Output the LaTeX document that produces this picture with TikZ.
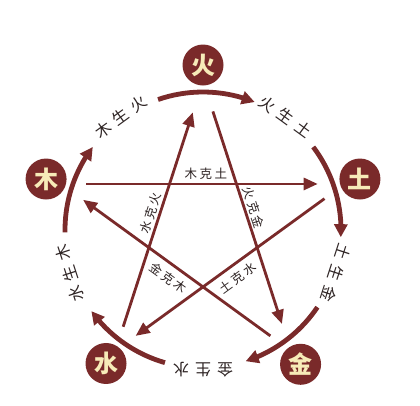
\documentclass[tikz,border=0pt]{standalone}
\usepackage{fontspec}
\newfontfamily\cjk{Noto Sans CJK SC}
\usetikzlibrary{calc,arrows.meta,bending}
\definecolor{maroon}{HTML}{7A2A2A}
\definecolor{cream}{HTML}{F7EBB8}
\definecolor{labtxt}{HTML}{2E2424}
\begin{document}
\begin{tikzpicture}[x=1pt,y=-1pt,
  elem/.style={circle,fill=maroon,minimum size=41pt,inner sep=0pt,text=cream,font=\cjk\bfseries\fontsize{24}{24}\selectfont},
  rimarc/.style={line width=4.8pt,draw=maroon,-{Triangle[length=13pt,width=13pt]}},
  rimlab/.style={text=labtxt,inner sep=1pt,font=\cjk\fontsize{16}{16}\selectfont},
  starline/.style={line width=2.8pt,draw=maroon,-{Triangle[length=14pt,width=12pt]}},
  klab/.style={text=labtxt,inner sep=2pt,font=\cjk\fontsize{12.5}{12.5}\selectfont}]
\useasboundingbox (0,0) rectangle (420,405);
\coordinate (C) at (203,230);
% element circles
\node[elem] (huo) at ($(C)+(90:165pt)$) {火};
\node[elem] (tu) at ($(C)+(18:165pt)$) {土};
\node[elem] (jin) at ($(C)+(-54:166pt)$) {金};
\node[elem] (shui) at ($(C)+(-126:165pt)$) {水};
\node[elem] (mu) at ($(C)+(162:165pt)$) {木};
% rim arcs (sheng cycle)
\draw[rimarc] ($(C)+(181:138pt)$) arc[start angle=181, end angle=143, radius=138pt];
\draw[rimarc] ($(C)+(109:138pt)$) arc[start angle=109, end angle=68, radius=138pt];
\draw[rimarc] ($(C)+(37:138pt)$) arc[start angle=37, end angle=-3, radius=138pt];
\draw[rimarc] ($(C)+(-34:138pt)$) arc[start angle=-34, end angle=-72, radius=138pt];
\draw[rimarc] ($(C)+(-106:138pt)$) arc[start angle=-106, end angle=-144, radius=138pt];
% rim labels
\node[rimlab,rotate=36] (l1) at ($(C)+(126:140pt)$) {木\hspace{6pt}生\hspace{6pt}火};
\node[rimlab,rotate=-36] (l2) at ($(C)+(54:140pt)$) {火\hspace{6pt}生\hspace{6pt}土};
\node[rimlab,rotate=-108] (l3) at ($(C)+(-18:140pt)$) {土\hspace{6pt}生\hspace{6pt}金};
\node[rimlab,rotate=-180] (l4) at ($(C)+(-90:140pt)$) {金\hspace{6pt}生\hspace{6pt}水};
\node[rimlab,rotate=108] (l5) at ($(C)+(-162:140pt)$) {水\hspace{6pt}生\hspace{6pt}木};
% star vertices
\coordinate (sF) at ($(C)+(90:149pt)$);
\coordinate (sT) at ($(C)+(18:149pt)$);
\coordinate (sJ) at ($(C)+(-54:149pt)$);
\coordinate (sS) at ($(C)+(-126:149pt)$);
\coordinate (sM) at ($(C)+(162:149pt)$);
% ke cycle
\draw[starline,shorten <=25pt,shorten >=27pt] (sM) -- (sT) node[klab,pos=.51,sloped,above=1.5pt] (k1) {木\hspace{2.5pt}克\hspace{2.5pt}土};
\draw[starline,shorten <=25pt,shorten >=25pt] (sT) -- (sS) node[klab,pos=.5,sloped,below=4pt] (k2) {土\hspace{2.5pt}克\hspace{2.5pt}水};
\draw[starline,shorten <=25pt,shorten >=33pt] (sS) -- (sF) node[klab,pos=.5,sloped,above] (k3) {水\hspace{2.5pt}克\hspace{2.5pt}火};
\draw[starline,shorten <=32pt,shorten >=28pt] (sF) -- (sJ) node[klab,pos=.48,sloped,above] (k4) {火\hspace{2.5pt}克\hspace{2.5pt}金};
\draw[starline,shorten <=25pt,shorten >=27pt] (sJ) -- (sM) node[klab,pos=.5,sloped,below=4pt] (k5) {金\hspace{2.5pt}克\hspace{2.5pt}木};
\end{tikzpicture}
\end{document}
